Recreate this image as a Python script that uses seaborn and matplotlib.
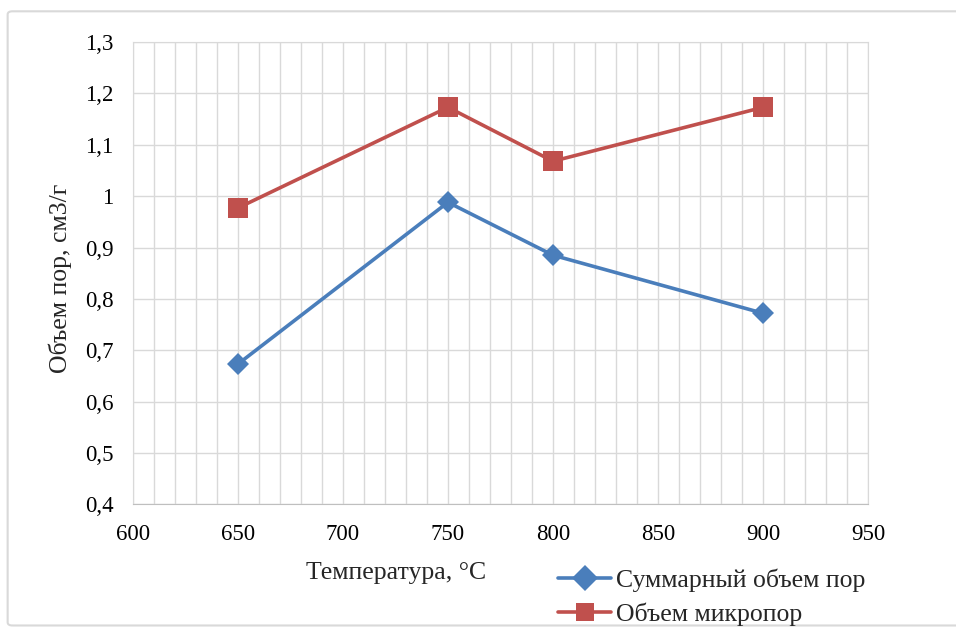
import matplotlib
matplotlib.use('Agg')
from matplotlib import pyplot as plt
from matplotlib import ticker
from matplotlib.patches import FancyBboxPatch
import seaborn as sns
import pandas as pd

# data
temperature = [650, 750, 800, 900]
total_volume = [0.673, 0.988, 0.885, 0.772]
micro_volume = [0.977, 1.173, 1.068, 1.173]
series_names = ['Суммарный объем пор', 'Объем микропор']
y_ticks = [0.4, 0.5, 0.6, 0.7, 0.8, 0.9, 1.0, 1.1, 1.2, 1.3]
x_ticks = [600, 650, 700, 750, 800, 850, 900, 950]

total_df = pd.DataFrame({'T': temperature, 'V': total_volume})
micro_df = pd.DataFrame({'T': temperature, 'V': micro_volume})

blue = '#4a7ebb'
red = '#c0504d'

sns.set_style('white')
plt.rcParams['font.family'] = ['Liberation Serif', 'DejaVu Serif']

fig = plt.figure(figsize=(9.56, 6.28), dpi=100)
ax = fig.add_axes([0.139, 0.197, 0.769, 0.736])

# outer chart frame
frame = FancyBboxPatch((0.008, 0.004), 1.05, 0.978, boxstyle='round,pad=0,rounding_size=0.005',
                       transform=fig.transFigure, fill=False, edgecolor='#d9d9d9', linewidth=1.5)
fig.patches.append(frame)

sns.lineplot(data=total_df, x='T', y='V', color=blue, marker='D', markersize=11.5,
             linewidth=2.6, markeredgewidth=0, ax=ax)
sns.lineplot(data=micro_df, x='T', y='V', color=red, marker='s', markersize=14,
             linewidth=2.6, markeredgewidth=0, ax=ax)

ax.set_xlim(600, 950)
ax.set_ylim(0.4, 1.3)
ax.xaxis.set_major_locator(ticker.FixedLocator(x_ticks))
ax.xaxis.set_minor_locator(ticker.MultipleLocator(10))
ax.yaxis.set_major_locator(ticker.FixedLocator(y_ticks))
ax.set_xticklabels([str(t) for t in x_ticks])
ax.set_yticklabels([('%g' % t).replace('.', ',') for t in y_ticks])
ax.grid(True, which='both', axis='x', color='#d9d9d9', linewidth=1)
ax.grid(True, which='major', axis='y', color='#d9d9d9', linewidth=1)
ax.set_axisbelow(True)
for s in ax.spines.values():
    s.set_color('#d9d9d9')
ax.spines['bottom'].set_color('#bfbfbf')
ax.tick_params(axis='both', which='both', length=0, labelsize=16.5, colors='black', pad=14)

ax.set_xlabel('')
ax.set_ylabel('')
fig.text(0.063, 0.556, 'Объем пор, см3/г', fontsize=18.5, rotation=90, ha='center', va='center')
fig.text(0.414, 0.088, 'Температура, °С', fontsize=18.5, ha='center', va='center')

# legend placed bottom right like the original
handles = [plt.Line2D([], [], color=blue, marker='D', markersize=13, linewidth=2.6, markeredgewidth=0),
           plt.Line2D([], [], color=red, marker='s', markersize=13, linewidth=2.6, markeredgewidth=0)]
fig.legend(handles, series_names, loc='upper left', bbox_to_anchor=(0.584, 0.095),
           frameon=False, fontsize=18.5, handlelength=2.05, handletextpad=0.2,
           labelspacing=0.4, borderaxespad=0, borderpad=0)

fig.savefig('out.png', dpi=100)
